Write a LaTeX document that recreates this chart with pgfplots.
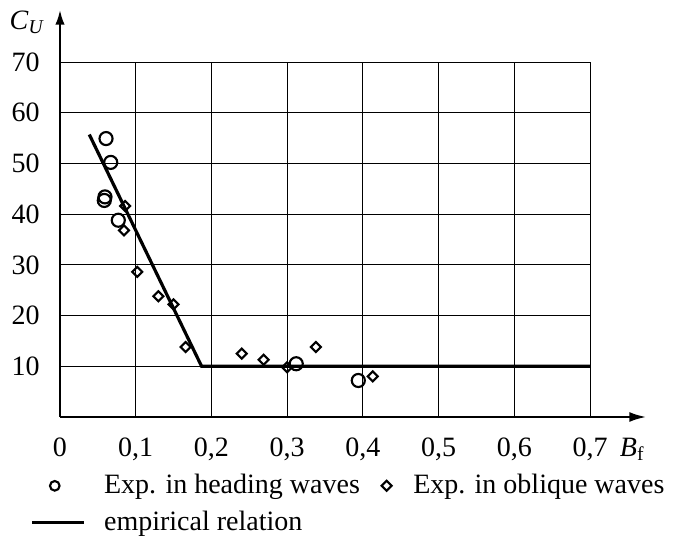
\documentclass[border=0pt]{standalone}
\usepackage{fontspec}
\setmainfont{Liberation Serif}
\usepackage{pgfplots}
\pgfplotsset{compat=1.18}
\usetikzlibrary{arrows.meta}
\pgfplotsset{
  circleleg/.style={legend image code/.code={\path[draw=none,fill=none] (0pt,0pt) -- (53pt,0pt); \draw[##1, mark size=3.6pt] plot[only marks] coordinates {(17pt,0pt)};}},
  diamondleg/.style={legend image code/.code={\path[draw=none,fill=none] (0pt,0pt) -- (38pt,0pt); \draw[##1] plot[only marks] coordinates {(19pt,0pt)};}},
  lineleg/.style={legend image code/.code={\draw[##1] (0pt,0pt) -- (39pt,0pt); \path[draw=none,fill=none] (53pt,0pt);}},
}
\begin{document}
\fontsize{21}{25}\selectfont
\begin{tikzpicture}
\path (-45pt,-93pt) rectangle (463.5pt,312.75pt);
\begin{axis}[
  at={(0,0)}, anchor=south west,
  scale only axis, width=397.5pt, height=266.25pt,
  xmin=0, xmax=0.7, ymin=0, ymax=70,
  enlargelimits=false, clip=false,
  axis lines=left,
  axis line style={line width=1.5pt},
  x axis line style={-{Latex[length=12.5pt,width=7.5pt]}, shorten >=-42pt},
  y axis line style={-{Latex[length=11pt,width=7pt]}, shorten >=-39pt},
  grid=major, grid style={line width=0.7pt, black},
  major tick length=0pt,
  xtick={0,0.1,0.2,0.3,0.4,0.5,0.6,0.7},
  xticklabels={0,{0,1},{0,2},{0,3},{0,4},{0,5},{0,6},{0,7}},
  ytick={10,20,30,40,50,60,70},
  yticklabels={10,20,30,40,50,60,70},
  tick label style={font=\fontsize{21}{25}\selectfont},
  yticklabel style={xshift=-8pt},
  xticklabel style={yshift=-8.5pt},
  legend columns=2,
  legend cell align=left,
  legend style={at={(axis cs:-0.0446,-10.4)}, anchor=north west, draw=none, fill=none,
    font=\fontsize{21}{25}\selectfont, column sep=0pt, row sep=8pt,
    nodes={inner sep=1pt}},
]
\addplot[only marks, mark=o, mark size=4.9pt, line width=1.6pt, circleleg]
  coordinates {(0.0608,54.9) (0.067,50.2) (0.0594,43.4) (0.0585,42.7) (0.077,38.8) (0.312,10.5) (0.394,7.2)};
\addlegendentry{Exp. in heading waves}
\addplot[only marks, mark=square, mark options={rotate=45}, mark size=2.65pt, line width=1.6pt, diamondleg]
  coordinates {(0.0859,41.6) (0.0845,36.8) (0.102,28.6) (0.130,23.8) (0.150,22.2) (0.166,13.8) (0.240,12.5) (0.269,11.3) (0.300,9.8) (0.338,13.8) (0.413,8.0)};
\addlegendentry{Exp. in oblique waves}
\addplot[line width=2.4pt, no marks, lineleg]
  coordinates {(0.0387,55.7) (0.187,10) (0.7,10)};
\addlegendentry{empirical relation}
\node at (axis cs:-0.0436,77.9) {\textit{C}\textsubscript{\textit{U}}};
\node at (axis cs:0.7556,-6.4) {\textit{B}\textsubscript{f}};
\end{axis}
\end{tikzpicture}
\end{document}
